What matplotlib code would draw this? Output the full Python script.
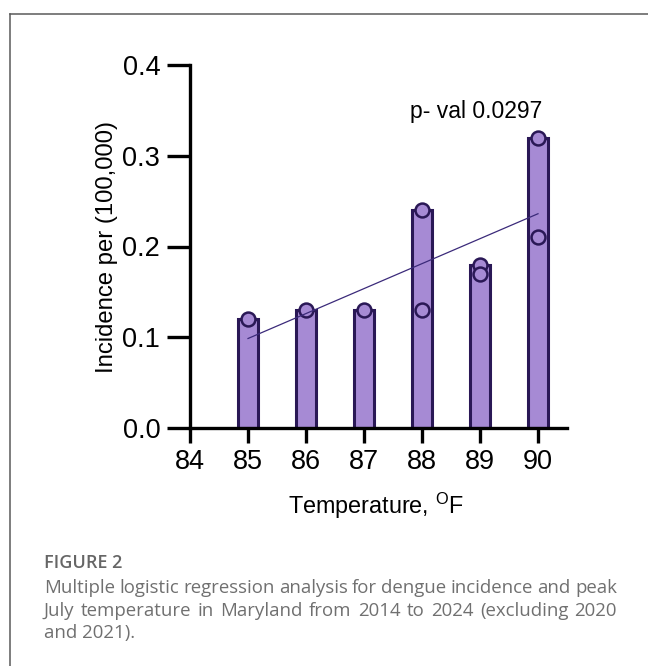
import numpy as np
import matplotlib
matplotlib.use("Agg")
import matplotlib.pyplot as plt
from matplotlib.lines import Line2D

plt.rcParams['font.family'] = ['Liberation Sans', 'DejaVu Sans']
plt.rcParams['mathtext.fontset'] = 'custom'
plt.rcParams['mathtext.rm'] = 'Liberation Sans'
plt.rcParams['mathtext.it'] = 'Liberation Sans:italic'
plt.rcParams['mathtext.bf'] = 'Liberation Sans:bold'

# ---- data ----
temps = [85, 86, 87, 88, 88, 89, 89, 90, 90]
incidence = [0.12, 0.13, 0.13, 0.24, 0.13, 0.18, 0.17, 0.32, 0.21]
bar_temps = [85, 86, 87, 88, 89, 90]
bar_heights = [0.12, 0.13, 0.13, 0.24, 0.18, 0.32]
x_ticks = [84, 85, 86, 87, 88, 89, 90]
y_ticks = [0.0, 0.1, 0.2, 0.3, 0.4]
y_tick_labels = ["0.0", "0.1", "0.2", "0.3", "0.4"]
pval_text = "p- val 0.0297"
x_label = r"Temperature, $\mathregular{^{O}}$F"
y_label = "Incidence per (100,000)"
fig_title = "FIGURE 2"
caption_lines = [
    "Multiple logistic regression analysis for dengue incidence and peak",
    "July temperature in Maryland from 2014 to 2024 (excluding 2020",
    "and 2021).",
]

W, H = 648, 666
fig = plt.figure(figsize=(W / 100, H / 100), dpi=100)


def fx(x):
    return x / W


def fy(y):
    return 1 - y / H


fill = '#a68ad4'
edge = '#2a1856'

ax = fig.add_axes([fx(190), fy(428), (567 - 190) / W, (428 - 65) / H])
ax.bar(bar_temps, bar_heights, width=0.35, color=fill, edgecolor=edge,
       linewidth=2.2, zorder=2)
ax.scatter(temps, incidence, s=10 ** 2, color=fill, edgecolor=edge,
           linewidths=1.8, zorder=3)
coef = np.polyfit(temps, incidence, 1)
xl = np.array([min(temps), max(temps)])
ax.plot(xl, np.polyval(coef, xl), color='#3b2a7a', lw=0.9, zorder=4)

ax.set_xlim(84, 90.5)
ax.set_ylim(0, 0.4)
ax.set_xticks(x_ticks)
ax.set_yticks(y_ticks)
ax.set_yticklabels(y_tick_labels)
for s in ['top', 'right']:
    ax.spines[s].set_visible(False)
for s in ['left', 'bottom']:
    ax.spines[s].set_linewidth(2.4)
    ax.spines[s].set_color('black')
ax.tick_params(axis='y', length=16.5, width=2.4, labelsize=19.5, pad=5)
ax.tick_params(axis='x', length=10.8, width=2.4, labelsize=19.5, pad=4)

fig.text(fx(107), fy(247), y_label, rotation=90, ha='center', va='center',
         fontsize=17.2)
fig.text(fx(376), fy(514), x_label, ha='center', va='baseline', fontsize=16.8)
fig.text(fx(410), fy(118), pval_text, ha='left', va='baseline', fontsize=16.5)

# frame lines (left and top)
fig.add_artist(Line2D([fx(9.5), fx(9.5)], [0, fy(13.5)], color='#5a5a5a',
                      lw=1.1))
fig.add_artist(Line2D([fx(9.5), 1], [fy(13.5), fy(13.5)], color='#5a5a5a',
                      lw=1.1))

cap_font = ['Open Sans', 'DejaVu Sans']
cap_col = '#707070'
fig.text(fx(44), fy(568), fig_title, ha='left', va='baseline', fontsize=13,
         fontweight='semibold', color='#666666', family=cap_font)

renderer = fig.canvas.get_renderer()
baselines = [593, 616, 638]
left, right = 44, 617
for i, line in enumerate(caption_lines):
    yb = fy(baselines[i])
    if i < len(caption_lines) - 1:
        words = line.split(' ')
        texts = [fig.text(0, yb, w, ha='left', va='baseline', fontsize=13.4,
                          color=cap_col, family=cap_font) for w in words]
        widths = [t.get_window_extent(renderer).width for t in texts]
        gap = (right - left - sum(widths)) / (len(words) - 1)
        x = left
        for t, w in zip(texts, widths):
            t.set_x(fx(x))
            x += w + gap
    else:
        fig.text(fx(left), yb, line, ha='left', va='baseline', fontsize=13.4,
                 color=cap_col, family=cap_font)

fig.savefig('out.png', dpi=100)
